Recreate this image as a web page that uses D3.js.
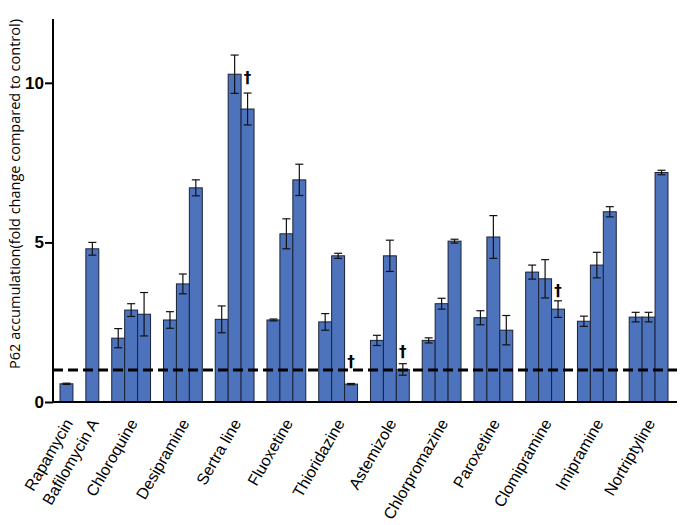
<!DOCTYPE html>
<html><head><meta charset="utf-8">
<script src="https://cdn.jsdelivr.net/npm/d3@7"></script>
<style>body{margin:0;background:#fff}svg{display:block}</style>
</head><body>
<svg id="chart" width="683" height="525"></svg>
<script>
const categories = ["Rapamycin","Bafilomycin A","Chloroquine","Desipramine","Sertra line","Fluoxetine","Thioridazine","Astemizole","Chlorpromazine","Paroxetine","Clomipramine","Imipramine","Nortriptyline"];
const values = [
  [0.57],[4.80],[2.00,2.88,2.75],[2.57,3.70,6.71],[2.59,10.27,9.18],[2.57,5.27,6.96],
  [2.51,4.58,0.56],[1.93,4.58,1.02],[1.93,3.08,5.04],[2.64,5.17,2.25],[4.07,3.86,2.91],
  [2.53,4.29,5.96],[2.66,2.66,7.19]
];
const errors = [
  [0.02],[0.20],[0.30,0.20,0.68],[0.26,0.31,0.25],[0.42,0.60,0.50],[0.03,0.47,0.49],
  [0.26,0.08,0.02],[0.16,0.49,0.18],[0.08,0.17,0.06],[0.22,0.67,0.46],[0.22,0.60,0.26],
  [0.16,0.40,0.16],[0.15,0.15,0.07]
];
const daggerCats = ["Sertra line","Thioridazine","Astemizole","Clomipramine"];
const daggerBar = [2,2,2,2];
const daggerY = [10.16,1.25,1.57,3.48];
const yTicks = [0,5,10];
const yDomain = [0,12];
const controlLevel = 1;
const yTitle = "P62 accumulation(fold change compared to control)";

const svg = d3.select("#chart");
const axisX0 = 53, axisX1 = 677;
const y = d3.scaleLinear().domain(yDomain).range([402, 19]);

// slot layout: each bar is one slot, one empty slot between categories
const bars = [];
const centers = [];
let slot = 0;
categories.forEach((c, i) => {
  const start = slot;
  values[i].forEach((v, j) => {
    bars.push({cat: c, j, v, e: errors[i][j], slot});
    slot++;
  });
  centers.push({cat: c, mid: (start + slot - 1) / 2});
  slot++;
});
const nSlots = slot - 1;
const x = d3.scaleLinear().domain([0, nSlots]).range([60, 668]);
const bw = x(1) - x(0);
const slotOf = (cat, j) => bars.find(b => b.cat === cat && b.j === j).slot;

const g = svg.append("g");

// bars
g.selectAll("rect.bar").data(bars).join("rect")
  .attr("x", d => x(d.slot)).attr("y", d => y(d.v))
  .attr("width", bw).attr("height", d => y(0) - y(d.v))
  .attr("fill", "#4e73bd").attr("stroke", "#1b2236").attr("stroke-width", 1);

// error bars
const eb = g.selectAll("g.err").data(bars).join("g").attr("stroke", "#111").attr("stroke-width", 1.2);
eb.append("line").attr("x1", d => x(d.slot) + bw/2).attr("x2", d => x(d.slot) + bw/2)
  .attr("y1", d => y(d.v + d.e)).attr("y2", d => y(Math.max(0, d.v - d.e)));
eb.append("line").attr("x1", d => x(d.slot) + bw/2 - 4).attr("x2", d => x(d.slot) + bw/2 + 4)
  .attr("y1", d => y(d.v + d.e)).attr("y2", d => y(d.v + d.e));
eb.append("line").attr("x1", d => x(d.slot) + bw/2 - 4).attr("x2", d => x(d.slot) + bw/2 + 4)
  .attr("y1", d => y(Math.max(0, d.v - d.e))).attr("y2", d => y(Math.max(0, d.v - d.e)));

// control dashed line
g.append("line").attr("x1", axisX0).attr("x2", axisX1)
  .attr("y1", y(controlLevel)).attr("y2", y(controlLevel))
  .attr("stroke", "#000").attr("stroke-width", 3).attr("stroke-dasharray", "10,5");

// daggers
daggerCats.forEach((c, i) => {
  const s = slotOf(c, daggerBar[i]);
  g.append("text").attr("x", x(s) + bw/2).attr("y", y(daggerY[i]))
    .attr("text-anchor", "middle").attr("dominant-baseline", "central")
    .attr("font-family", "DejaVu Sans, sans-serif").attr("font-weight", "bold")
    .attr("font-size", 15).text("\u2020");
});

// y axis
const yAxis = svg.append("g").attr("transform", `translate(${axisX0},0)`)
  .call(d3.axisLeft(y).tickValues(yTicks).tickSize(8).tickFormat(d3.format("d")));
yAxis.select(".domain").attr("d", `M0,${y(yDomain[1])}V${y(0)}`).attr("stroke", "#000").attr("stroke-width", 2);
yAxis.selectAll(".tick line").attr("stroke", "#000").attr("stroke-width", 2);
yAxis.selectAll(".tick text").attr("font-family", "Liberation Sans, Arial, sans-serif")
  .attr("font-weight", "bold").attr("font-size", 17).attr("fill", "#000").attr("x", -9);

// x axis line
svg.append("line").attr("x1", axisX0).attr("x2", axisX1).attr("y1", y(0)).attr("y2", y(0))
  .attr("stroke", "#000").attr("stroke-width", 2);

// category labels
svg.selectAll("text.cat").data(centers).join("text")
  .attr("transform", d => `translate(${x(d.mid) + bw/2 + 7},423) rotate(-60)`)
  .attr("text-anchor", "end")
  .attr("font-family", "Liberation Sans, Arial, sans-serif").attr("font-size", 16).attr("fill", "#000")
  .text(d => d.cat);

// y title
svg.append("text").attr("transform", `translate(20,194) rotate(-90)`)
  .attr("text-anchor", "middle").attr("font-family", "Open Sans, sans-serif")
  .attr("font-size", 14.5).attr("fill", "#000").text(yTitle);
</script>
</body></html>
